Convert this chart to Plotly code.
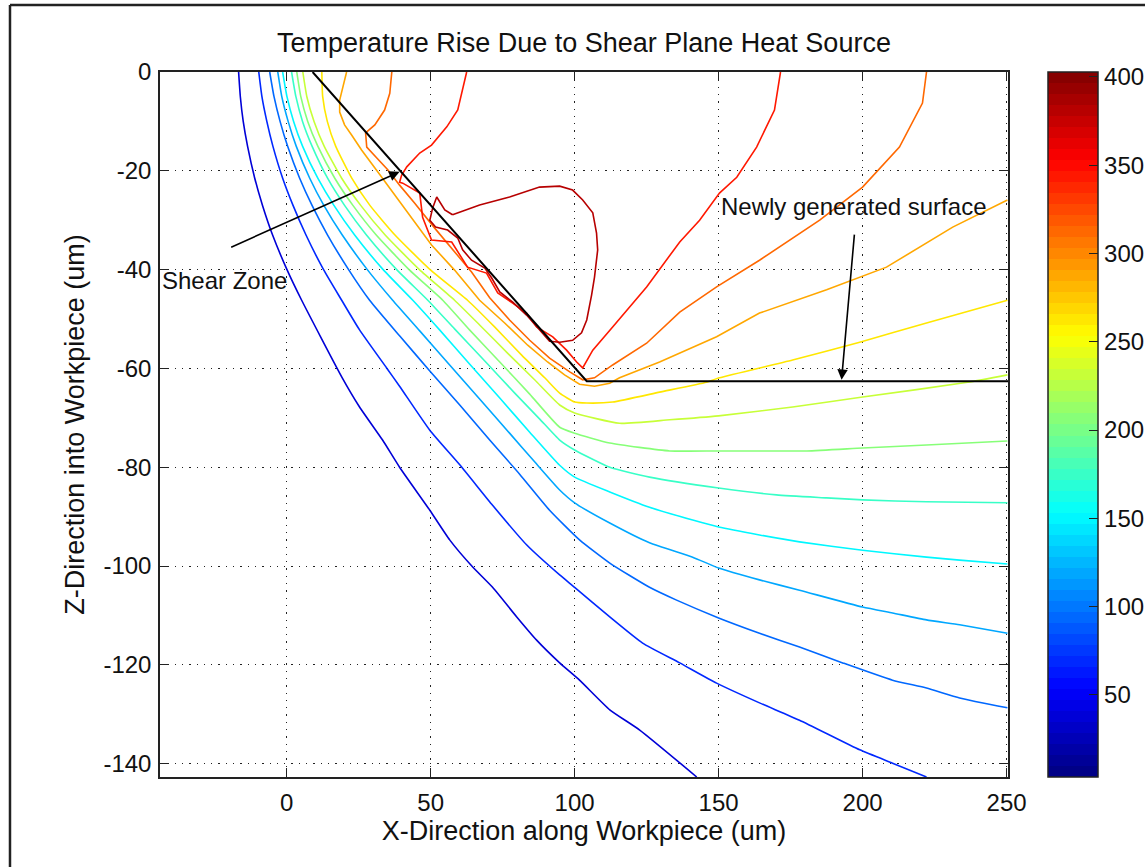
import plotly.graph_objects as go

# ---------------- chart values ----------------
c_min, c_max = 3.5, 402.8                     # colour-bar limits
cbar_ticks = [50, 100, 150, 200, 250, 300, 350, 400]
x_ticks = [0, 50, 100, 150, 200, 250]
x_tick_text = ["0", "50", "100", "150", "200", "250"]
y_ticks = [0, -20, -40, -60, -80, -100, -120, -140]
y_tick_text = ["0", "-20", "-40", "-60", "-80", "-100", "-120", "-140"]

# contour levels (estimated from line colours)
lev_A, lev_B, lev_C, lev_D, lev_E = 40, 67, 95, 122, 150
lev_F, lev_G, lev_H, lev_I, lev_J = 177, 205, 232, 260, 287
lev_K, lev_M, lev_L = 315, 342, 378

A_x = [-16.7, -16.1, -15.1, -13.6, -11.1, -8.4, -4.9, 0.1, 5.2, 19.1, 25.3, 33.3, 39.2, 49.7, 56.6, 64.6, 71.5, 79.9, 86.8, 94.8, 101.7, 112.2, 122.6, 142.4]
A_y = [0, -5, -10, -15, -21.5, -27, -33, -40, -46.2, -61.7, -67.8, -74.5, -80, -88.7, -94.7, -100.2, -104.3, -110.3, -115, -119.6, -123.1, -129.1, -133.2, -142.7]

B_x = [-9.7, -8.6, -6.9, -4.8, -1.4, 2.2, 6.7, 12.8, 19.1, 25.3, 34.7, 39.2, 49.7, 60.1, 71.5, 83.3, 94.8, 100, 112.2, 123.6, 136.5, 149.3, 164.2, 178.1, 199, 210.4, 222.2]
B_y = [0, -5, -10, -15, -21.5, -27, -33, -40, -46.2, -52.2, -59.9, -63.6, -72.5, -79.5, -87.7, -95.7, -101.8, -104.3, -110.3, -115.6, -119.6, -123.7, -127.7, -131.2, -137.2, -139.9, -142.7]

C_x = [-5.9, -4.4, -2.3, 0.3, 4.5, 8.8, 14.2, 21.5, 28.8, 39.2, 49.7, 60.1, 70.5, 80.9, 91.3, 101.7, 112.2, 126, 135.4, 150, 164.2, 178.1, 193.1, 210.4, 222.2, 233.7, 250.3]
C_y = [0, -5, -10, -15, -21.5, -27, -33, -40, -46.2, -53.4, -60.5, -67.4, -74.5, -81.4, -88.7, -94.7, -99.4, -104.3, -106.9, -110.5, -113.6, -116.4, -119.6, -123.1, -124.7, -126.7, -128.7]

D_x = [-3.1, -1.7, 0.5, 3.3, 8.0, 12.9, 19.3, 28.0, 36.8, 46.2, 56.6, 67.0, 77.4, 86.1, 94.8, 100, 112.2, 126, 141, 150, 164.2, 178.1, 200, 210.4, 222.2, 233.7, 250.3]
D_y = [0, -5, -10, -15, -21.5, -27, -33, -40, -46.2, -52.4, -59.3, -66.2, -73.1, -78.9, -84.6, -87.2, -91.3, -95.3, -98.2, -100.4, -102.8, -104.9, -108.3, -109.5, -110.9, -111.9, -113.6]

E_x = [-1.4, 0.1, 2.4, 5.5, 10.8, 16.4, 23.6, 33.5, 43.8, 53.1, 63.5, 74, 84.4, 94.8, 100, 112.2, 126, 141, 150, 164.2, 178.1, 200, 222.2, 233.7, 250.3]
E_y = [0, -5, -10, -15, -21.5, -27, -33, -40, -46.2, -52.2, -59.1, -66.0, -72.9, -79.6, -82.0, -85.0, -88.1, -90.7, -92.1, -93.7, -95.1, -96.8, -98.2, -98.8, -99.6]

F_x = [1.7, 3.2, 5.5, 8.8, 14.2, 20.1, 27.7, 38.2, 49.0, 58.3, 68.8, 79.2, 87.8, 94.8, 100, 112.2, 126, 150, 170.1, 187.5, 200, 222.2, 250.3]
F_y = [0, -5, -10, -15, -21.5, -27, -33, -40, -46.2, -52.0, -58.5, -65.0, -70.2, -74.5, -76.5, -80.0, -82.0, -84.2, -85.6, -86.2, -86.6, -87.0, -87.2]

G_x = [3.5, 4.9, 7.3, 10.8, 16.7, 23.0, 31.1, 42.5, 54.2, 63.5, 74, 84.4, 94.8, 100, 112.2, 133, 150, 180.6, 200, 222.2, 250.3]
G_y = [0, -5, -10, -15, -21.5, -27, -33, -40, -46.2, -52.2, -58.7, -65.2, -71.9, -73.1, -75.1, -76.7, -76.7, -76.7, -76.1, -75.5, -74.7]

H_x = [5.6, 7.0, 9.5, 13.0, 19.1, 25.7, 34.2, 46.1, 58.3, 67, 76.7, 86.1, 94.8, 100, 115.6, 133, 150, 175.7, 200, 236.5, 250.3]
H_y = [0, -5, -10, -15, -21.5, -27, -33, -40, -46.2, -51.2, -56.9, -62.3, -67.4, -69.0, -71.1, -70.4, -69.6, -67.8, -65.8, -62.8, -61.3]

I_x = [12.2, 12.5, 14.1, 17.0, 22.6, 28.9, 37.6, 49.8, 62.8, 72.2, 81.6, 89.6, 94.8, 100, 104.2, 113.2, 129.5, 145.8, 150.3, 175.7, 199, 222.2, 250.3]
I_y = [0, -5, -10, -15, -21.5, -27, -33, -40, -46.2, -51.6, -57.3, -61.9, -65.0, -66.8, -67.0, -66.8, -64.8, -62.8, -61.9, -58.3, -54.7, -50.8, -46.2]

J_x = [20.8, 19.8, 18.4, 18.4, 20.1, 22.6, 26.0, 31.6, 37.5, 43.8, 50.3, 58.3, 67.0, 75.7, 83.7, 90.6, 96.5, 101.7, 106.9, 112.2, 115.6, 129.5, 149.3, 164.2, 187.5, 208.3, 231.3, 250.3]
J_y = [0, -2.6, -5.7, -8.1, -10.7, -12.8, -15.8, -20.2, -24.9, -30.0, -35.0, -40.1, -46.2, -50.8, -55.3, -58.7, -61.3, -63.2, -63.6, -63.0, -61.9, -58.7, -53.6, -48.8, -44.1, -39.5, -31.4, -25.9]

K_x = [36.5, 35.8, 34.0, 30.6, 27.4, 27.8, 31.3, 35.1, 39.2, 44.4, 51.4, 58.3, 64.2, 70.5, 77.4, 84.4, 91.3, 98.3, 102.8, 106.9, 113.2, 125, 136.5, 149.3, 164.2, 185.1, 200, 212.8, 220.8, 222.2]
K_y = [0, -4.3, -7.7, -10.7, -12.3, -15.2, -17.4, -19.8, -22.9, -26.5, -31.6, -36.4, -40.5, -45.7, -50.2, -54.3, -57.9, -60.7, -62.3, -61.9, -59.3, -54.9, -48.6, -43.5, -38.1, -30.0, -23.3, -15.2, -6.3, 0]

M_x = [62.5, 60.8, 59.4, 55.6, 50.3, 46.2, 41.7, 39.9, 39.2, 40.3, 46.2, 47.2, 50.3, 57.3, 62.8, 69.4, 73.3, 78.5, 83.3, 86.8, 92.4, 97.2, 100.7, 102.8, 106.3, 113.2, 125, 136.5, 143.4, 150.3, 156.3, 163.2, 169.4, 171.5]
M_y = [0, -4.3, -7.7, -11.1, -14.8, -16.4, -19.2, -20.9, -22.3, -22.5, -24.5, -29.4, -34.0, -34.4, -39.5, -40.7, -44.7, -46.8, -48.8, -51.6, -53.6, -56.3, -58.7, -59.9, -56.3, -51.6, -43.5, -34.4, -30.0, -24.5, -21.3, -15.2, -7.7, 0]

L_x = [57.6, 67, 77.4, 87.8, 94.8, 99.3, 102.8, 106.3, 107.6, 108, 106.9, 105.9, 104.2, 102.4, 99.3, 94.8, 91.3, 87.8, 83.3, 78.5, 74, 71.2, 68.8, 64.2, 61.1, 59.4, 55.9, 51.7, 49.7, 50.7, 52.1, 54.9, 57.6]
L_y = [-28.9, -26.9, -25.3, -23.3, -23.1, -23.9, -25.9, -28.5, -32.6, -36.0, -41.5, -45.1, -50.2, -52.8, -54.3, -54.7, -54.5, -52.2, -49.2, -46.6, -44.5, -41.7, -39.7, -38.1, -36.0, -33.6, -32.0, -31.4, -30.0, -27.5, -25.3, -27.9, -28.9]

# tool outline (shear plane and newly generated surface)
tool_x = [9.0, 104.2, 250.5]
tool_y = [0.0, -62.6, -62.6]

# ---------------- styling helpers ----------------
FONT = "Liberation Sans, Arial, Helvetica, sans-serif"
CB_X = 1.0472          # colour bar left edge (paper units)
CB_TICK = 0.0106       # length of left-side colour bar ticks (paper units)


def jet_rgb(t):
    t = min(max(t, 0.0), 1.0)
    r = min(max(1.5 - abs(4 * t - 3), 0.0), 1.0)
    g = min(max(1.5 - abs(4 * t - 2), 0.0), 1.0)
    b = min(max(1.5 - abs(4 * t - 1), 0.0), 1.0)
    return "rgb(%d,%d,%d)" % (round(r * 255), round(g * 255), round(b * 255))


def level_colour(v):
    t = (v - c_min) / (c_max - c_min)
    k = min(max(int(t * 64), 0), 63)
    return jet_rgb((k + 0.5) / 64)


jet64 = []
for k in range(64):
    col = jet_rgb((k + 0.5) / 64)
    jet64.append([k / 64, col])
    jet64.append([(k + 1) / 64, col])

contours = [
    (lev_A, A_x, A_y, "spline"), (lev_B, B_x, B_y, "spline"), (lev_C, C_x, C_y, "spline"),
    (lev_D, D_x, D_y, "spline"), (lev_E, E_x, E_y, "spline"), (lev_F, F_x, F_y, "spline"),
    (lev_G, G_x, G_y, "spline"), (lev_H, H_x, H_y, "spline"), (lev_I, I_x, I_y, "spline"),
    (lev_J, J_x, J_y, "linear"), (lev_K, K_x, K_y, "linear"), (lev_M, M_x, M_y, "linear"),
    (lev_L, L_x, L_y, "linear"),
]

fig = go.Figure()
for lev, xs, ys, shp in contours:
    fig.add_trace(go.Scatter(
        x=xs, y=ys, mode="lines",
        line=dict(color=level_colour(lev), width=1.6, shape=shp, smoothing=0.5),
        showlegend=False, hoverinfo="skip"))

fig.add_trace(go.Scatter(x=tool_x, y=tool_y, mode="lines",
                         line=dict(color="black", width=2), showlegend=False, hoverinfo="skip"))

# colour bar carrier
fig.add_trace(go.Scatter(
    x=[None], y=[None], mode="markers", showlegend=False, hoverinfo="skip",
    marker=dict(color=[c_min], cmin=c_min, cmax=c_max, colorscale=jet64, showscale=True,
                colorbar=dict(x=CB_X, xanchor="left", y=0.5, yanchor="middle",
                              len=1, lenmode="fraction", thickness=50, thicknessmode="pixels",
                              xpad=0, ypad=0, outlinecolor="#222", outlinewidth=1.5,
                              tickvals=cbar_ticks, ticks="inside", ticklen=9, tickwidth=1.2,
                              tickcolor="#222", tickfont=dict(size=24, color="#111", family=FONT)))))

# matching tick marks on the left side of the colour bar
cb_shapes = [dict(type="line", xref="paper", yref="paper", x0=CB_X, x1=CB_X + CB_TICK,
                  y0=(v - c_min) / (c_max - c_min), y1=(v - c_min) / (c_max - c_min),
                  line=dict(color="#222", width=1.2)) for v in cbar_ticks]

axis_common = dict(
    ticks="inside", ticklen=9, tickwidth=1.4, tickcolor="#222",
    showline=True, linecolor="#222", linewidth=1.5, mirror="ticks",
    showgrid=True, gridcolor="#222", gridwidth=1.3, griddash="1.3px,6px",
    zeroline=False, tickfont=dict(size=24, color="#111", family=FONT),
)

fig.update_layout(
    width=1145, height=867,
    margin=dict(l=160, r=137, t=72, b=90, autoexpand=False),
    paper_bgcolor="white", plot_bgcolor="white",
    font=dict(family=FONT, color="#111"),
    title=dict(text="Temperature Rise Due to Shear Plane Heat Source",
               x=0.5, xref="paper", xanchor="center",
               y=1 - 43 / 867, yref="container", yanchor="middle",
               font=dict(size=27, color="#111", family=FONT)),
    xaxis=dict(range=[-44, 250.5], tickvals=x_ticks, ticktext=x_tick_text, ticklabelstandoff=3,
               title=dict(text="X-Direction along Workpiece (um)", standoff=6,
                          font=dict(size=27, color="#111", family=FONT)),
               **axis_common),
    yaxis=dict(range=[-142.7, 0], tickvals=y_ticks, ticktext=y_tick_text, ticklabelstandoff=2,
               title=dict(text="Z-Direction into Workpiece (um)", standoff=11,
                          font=dict(size=27, color="#111", family=FONT)),
               **axis_common),
    shapes=[
        dict(type="line", xref="paper", yref="paper", x0=-0.1769, x1=1.25, y0=1.095, y1=1.095,
             line=dict(color="#222", width=2.5)),
        dict(type="line", xref="paper", yref="paper", x0=-0.1769, x1=-0.1769, y0=1.095, y1=-0.2,
             line=dict(color="#222", width=2.5)),
    ] + cb_shapes,
    annotations=[
        dict(x=-44, y=-42.3, xref="x", yref="y", text="Shear Zone", showarrow=False,
             xanchor="left", yanchor="middle", font=dict(size=24, color="#111", family=FONT)),
        dict(x=150.3, y=-27.3, xref="x", yref="y", text="Newly generated surface", showarrow=False,
             xanchor="left", yanchor="middle", font=dict(size=24, color="#111", family=FONT)),
        dict(x=39.2, y=-20.2, ax=-19.8, ay=-35.6, xref="x", yref="y", axref="x", ayref="y",
             text="", showarrow=True, arrowhead=2, arrowsize=1.3, arrowwidth=1.6, arrowcolor="black"),
        dict(x=192.7, y=-62.3, ax=197.2, ay=-32.6, xref="x", yref="y", axref="x", ayref="y",
             text="", showarrow=True, arrowhead=2, arrowsize=1.3, arrowwidth=1.6, arrowcolor="black"),
    ],
)

fig.write_html("out.html")
